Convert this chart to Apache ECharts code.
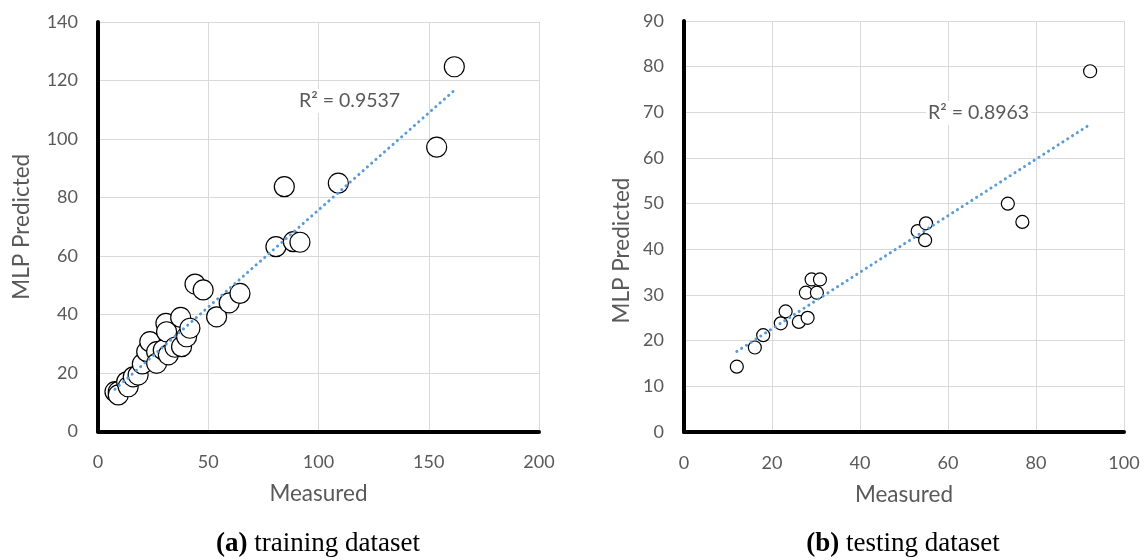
<!DOCTYPE html>
<html>
<head>
<meta charset="utf-8">
<script src="https://cdn.jsdelivr.net/npm/echarts@6/dist/echarts.min.js"></script>
<style>
  html, body { margin: 0; padding: 0; background: #fff; }
  #chart { width: 1147px; height: 560px; }
</style>
</head>
<body>
<div id="chart"></div>
<script>
// Training dataset: measured vs MLP-predicted values
const measuredTrain = [7.7, 9.2, 9.2, 13.0, 13.7, 16.0, 18.2, 20.1, 22.1, 23.5, 26.6, 26.6, 29.6, 30.8, 31.1, 31.9, 34.9, 37.5, 37.9, 40.2, 41.7, 44.0, 47.7, 53.8, 59.5, 64.4, 80.7, 84.5, 88.6, 91.6, 109.0, 153.6, 161.6];
const predictedTrain = [13.6, 13.6, 12.5, 17.0, 15.3, 18.7, 19.3, 23.1, 27.3, 30.7, 27.3, 23.3, 27.9, 37.0, 34.1, 26.2, 28.8, 39.0, 29.0, 32.4, 35.3, 50.4, 48.4, 39.2, 44.0, 47.2, 63.2, 83.7, 64.9, 64.7, 84.9, 97.2, 124.7];

// Testing dataset
const measuredTest = [12.0, 16.1, 18.0, 22.0, 23.1, 26.1, 28.1, 27.7, 30.2, 29.0, 30.9, 53.1, 55.0, 54.8, 73.6, 76.9, 92.3];
const predictedTest = [14.3, 18.5, 21.2, 23.8, 26.4, 24.1, 25.0, 30.5, 30.5, 33.4, 33.4, 44.0, 45.7, 42.0, 50.0, 46.0, 79.0];

// Axis tick settings
const trainXTicks = { min: 0, max: 200, interval: 50 };
const trainYTicks = { min: 0, max: 140, interval: 20 };
const testXTicks = { min: 0, max: 100, interval: 20 };
const testYTicks = { min: 0, max: 90, interval: 10 };

// Text
const r2Train = 'R² = 0.9537';
const r2Test = 'R² = 0.8963';
const xName = 'Measured';
const yName = 'MLP Predicted';

function pairs(xs, ys) {
  return xs.map((x, i) => [x, ys[i]]);
}

// Least-squares linear trendline spanning the measured range
function trend(xs, ys) {
  const n = xs.length;
  const mx = xs.reduce((a, b) => a + b, 0) / n;
  const my = ys.reduce((a, b) => a + b, 0) / n;
  let sxy = 0, sxx = 0;
  for (let i = 0; i < n; i++) {
    sxy += (xs[i] - mx) * (ys[i] - my);
    sxx += (xs[i] - mx) * (xs[i] - mx);
  }
  const b = sxy / sxx;
  const a = my - b * mx;
  const x0 = Math.min(...xs), x1 = Math.max(...xs);
  return [[x0, a + b * x0], [x1, a + b * x1]];
}

const FONT = 'Lato, "Open Sans", sans-serif';
const SERIF = '"Liberation Serif", "Times New Roman", serif';
const GRAY = '#595959';

function xAxisCfg(gridIndex, t) {
  return {
    type: 'value', gridIndex, min: t.min, max: t.max, interval: t.interval,
    name: xName, nameLocation: 'middle', nameGap: 51,
    nameTextStyle: { color: GRAY, fontSize: 22.5, fontFamily: FONT },
    axisLine: { show: true, onZero: false, lineStyle: { color: '#000', width: 4 } },
    axisTick: { show: false },
    axisLabel: { color: GRAY, fontSize: 18, fontFamily: FONT, margin: 22 },
    splitLine: { show: true, lineStyle: { color: '#d9d9d9', width: 1 } }
  };
}

function yAxisCfg(gridIndex, t, gap, pad) {
  return {
    type: 'value', gridIndex, min: t.min, max: t.max, interval: t.interval,
    name: yName, nameLocation: 'middle', nameGap: gap,
    nameTextStyle: { color: GRAY, fontSize: 22.5, fontFamily: FONT, padding: pad },
    axisLine: { show: true, onZero: false, lineStyle: { color: '#000', width: 4 } },
    axisTick: { show: false },
    axisLabel: { color: GRAY, fontSize: 18, fontFamily: FONT, margin: 20 },
    splitLine: { show: true, lineStyle: { color: '#d9d9d9', width: 1 } }
  };
}

function scatterCfg(idx, data, size) {
  return {
    type: 'scatter', xAxisIndex: idx, yAxisIndex: idx, data,
    symbol: 'circle', symbolSize: size, z: 2,
    itemStyle: { color: '#ffffff', borderColor: '#000000', borderWidth: 1.2, opacity: 1 },
    emphasis: { disabled: true }
  };
}

function trendCfg(idx, data) {
  return {
    type: 'line', xAxisIndex: idx, yAxisIndex: idx, data,
    symbol: 'none', z: 5, silent: true,
    lineStyle: { color: '#5B9BD5', width: 3, type: [0.1, 5.6], cap: 'round' }
  };
}

function r2Label(x, y, text) {
  return {
    type: 'text', x, y, z: 10,
    style: {
      text, fill: GRAY, font: '19.5px ' + FONT, verticalAlign: 'middle',
      backgroundColor: '#ffffff', padding: [2, 2, 2, 2]
    }
  };
}

function caption(x, tag, text) {
  return {
    type: 'text', x, y: 544,
    style: {
      text: '{b|' + tag + '} ' + text, align: 'center', verticalAlign: 'middle',
      font: '27px ' + SERIF, fill: '#000',
      rich: { b: { fontWeight: 'bold', fontSize: 27, fontFamily: SERIF, fill: '#000' } }
    }
  };
}

const chart = echarts.init(document.getElementById('chart'), null, { renderer: 'canvas' });

chart.setOption({
  animation: false,
  backgroundColor: '#ffffff',
  grid: [
    { left: 98, top: 22, width: 441, height: 409.5 },
    { left: 684, top: 21, width: 440, height: 411 }
  ],
  xAxis: [xAxisCfg(0, trainXTicks), xAxisCfg(1, testXTicks)],
  yAxis: [yAxisCfg(0, trainYTicks, 65, 0), yAxisCfg(1, testYTicks, 51, [0, 48, 0, 0])],
  series: [
    scatterCfg(0, pairs(measuredTrain, predictedTrain), 20),
    trendCfg(0, trend(measuredTrain, predictedTrain)),
    scatterCfg(1, pairs(measuredTest, predictedTest), 13),
    trendCfg(1, trend(measuredTest, predictedTest))
  ],
  graphic: [
    r2Label(297, 101, r2Train),
    r2Label(926, 113, r2Test),
    caption(318, '(a)', 'training dataset'),
    caption(903, '(b)', 'testing dataset')
  ]
});
</script>
</body>
</html>
